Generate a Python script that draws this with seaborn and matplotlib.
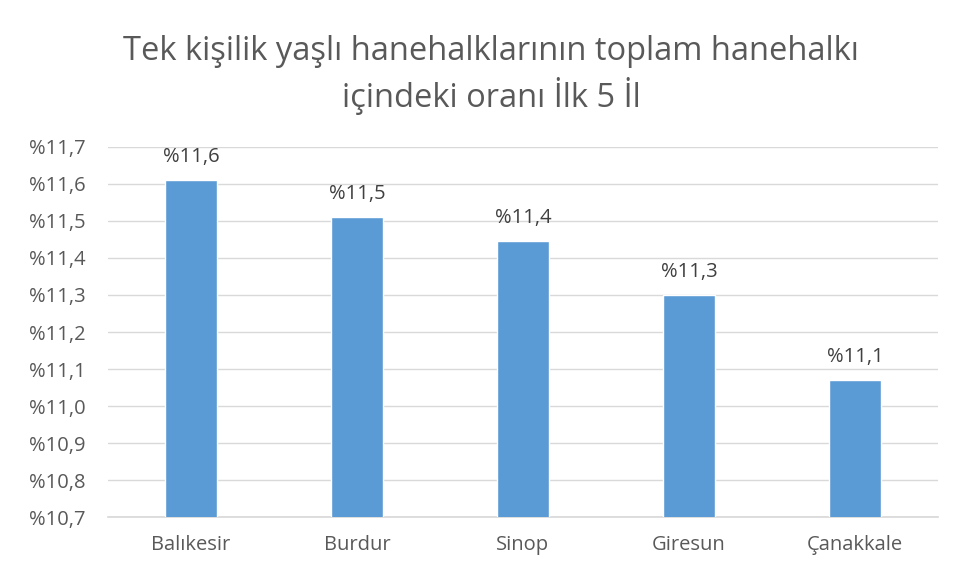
import matplotlib
matplotlib.use("Agg")
import matplotlib.pyplot as plt
import seaborn as sns
import pandas as pd

# data
iller = ["Balıkesir", "Burdur", "Sinop", "Giresun", "Çanakkale"]
oranlar = [11.61, 11.51, 11.445, 11.30, 11.07]
etiketler = ["%11,6", "%11,5", "%11,4", "%11,3", "%11,1"]
y_ticks = [10.7, 10.8, 10.9, 11.0, 11.1, 11.2, 11.3, 11.4, 11.5, 11.6, 11.7]

df = pd.DataFrame({"il": iller, "oran": oranlar})

sns.set_theme(style="white")
plt.rcParams["font.family"] = ["Open Sans", "DejaVu Sans"]

text_col = "#595959"
fig = plt.figure(figsize=(9.57, 5.78), dpi=100)
ax = fig.add_axes([0.1129, 0.1055, 0.8671, 0.6402])

sns.barplot(data=df, x="il", y="oran", color="#5b9bd5", width=0.31,
            saturation=1, ax=ax, zorder=3)

ax.set_ylim(10.7, 11.7)
ax.set_xlim(-0.5, 4.5)
ax.set_yticks(y_ticks)
ax.set_yticklabels(["%" + f"{v:.1f}".replace(".", ",") for v in y_ticks])
ax.grid(axis="y", color="#d9d9d9", linewidth=1, zorder=0)
ax.set_xlabel("")
ax.set_ylabel("")
for s in ["top", "right", "left"]:
    ax.spines[s].set_visible(False)
ax.spines["bottom"].set_color("#d9d9d9")
ax.tick_params(axis="both", length=0, colors=text_col, labelsize=14.5)
ax.tick_params(axis="x", pad=13)
ax.tick_params(axis="y", pad=16)

for i, (v, lab) in enumerate(zip(oranlar, etiketler)):
    ax.text(i, v + 0.035, lab, ha="center", va="bottom", fontsize=14.5, color="#404040")

fig.text(0.513, 0.87, "Tek kişilik yaşlı hanehalklarının toplam hanehalkı\niçindeki oranı İlk 5 İl",
         ha="center", va="center", fontsize=23.5, color=text_col, linespacing=1.32)

fig.savefig("out.png", dpi=100)
